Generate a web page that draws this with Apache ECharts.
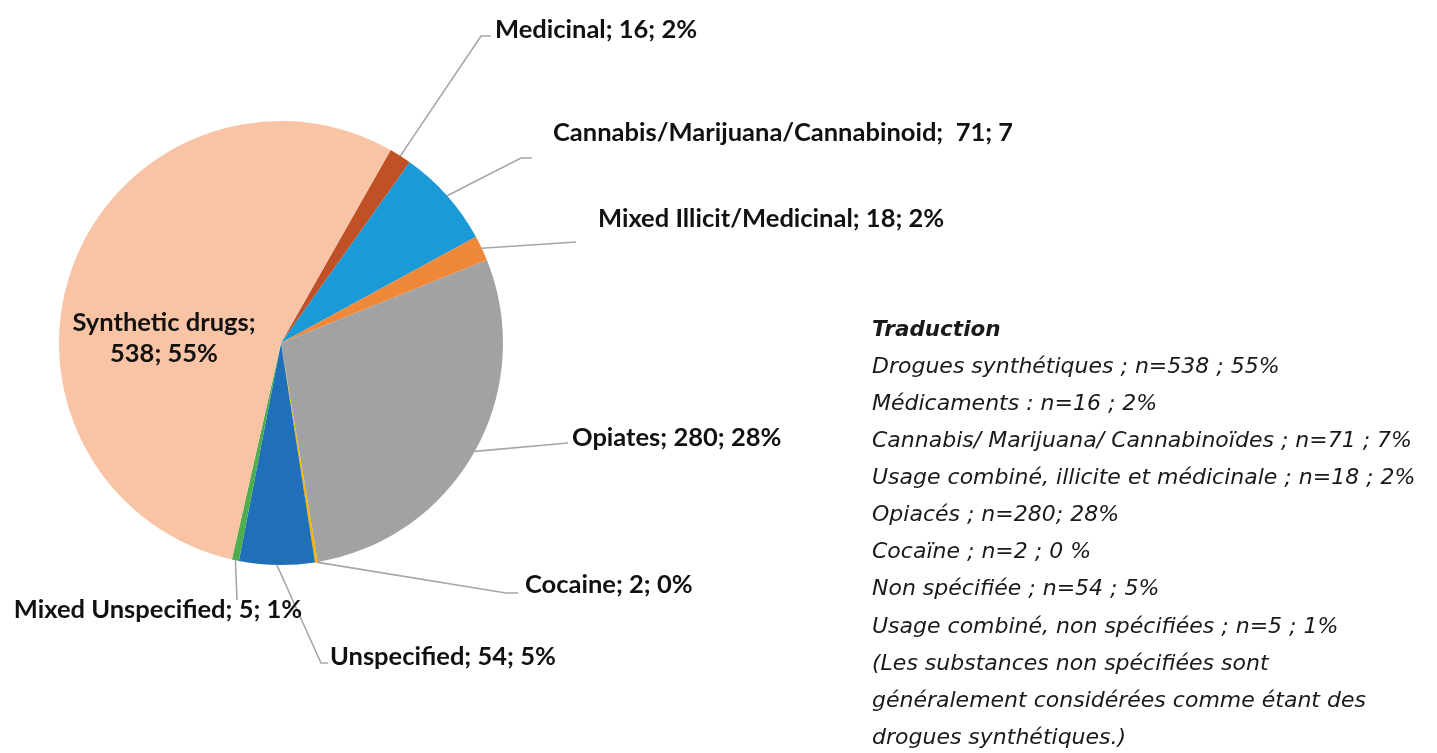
<!DOCTYPE html>
<html><head><meta charset="utf-8">
<script src="https://cdn.jsdelivr.net/npm/echarts@6/dist/echarts.min.js"></script>
<style>html,body{margin:0;padding:0;background:#fff}#c{width:1437px;height:753px}</style>
</head><body><div id="c"></div>
<script>
// ---- data ----
const categories = ['Medicinal', 'Cannabis/Marijuana/Cannabinoid', 'Mixed Illicit/Medicinal', 'Opiates', 'Cocaine', 'Unspecified', 'Mixed Unspecified', 'Synthetic drugs'];
const values = [16, 71, 18, 280, 2, 54, 5, 538];
const translationTitle = 'Traduction';
const translationLines = [
  'Drogues synthétiques ; n=538 ; 55%',
  'Médicaments : n=16 ; 2%',
  'Cannabis/ Marijuana/ Cannabinoïdes ; n=71 ; 7%',
  'Usage combiné, illicite et médicinale ; n=18 ; 2%',
  'Opiacés ; n=280; 28%',
  'Cocaïne ; n=2 ; 0 %',
  'Non spécifiée ; n=54 ; 5%',
  'Usage combiné, non spécifiées ; n=5 ; 1%',
  '(Les substances non spécifiées sont',
  'généralement considérées comme étant des',
  'drogues synthétiques.)'
];

// ---- styles / layout ----
const colors = ['#C05026', '#1A9BD7', '#F0883A', '#A0A2A3', '#F4B400', '#1F70B8', '#4EAD4C', '#F8C4A5'];
const labelPlacement = {
  'Medicinal': { x: 495, y: 30, align: 'left', path: [[481, 36], [491, 36]] },
  'Cannabis/Marijuana/Cannabinoid': { x: 553, y: 133, align: 'left', path: [[521, 158], [532, 158]] },
  'Mixed Illicit/Medicinal': { x: 598, y: 219, align: 'left', path: [[576, 242]] },
  'Opiates': { x: 572, y: 438, align: 'left', path: [[568, 443]] },
  'Cocaine': { x: 525, y: 585, align: 'left', path: [[506, 593], [518, 593]] },
  'Unspecified': { x: 330, y: 657, align: 'left', path: [[321, 663], [328, 663]] },
  'Mixed Unspecified': { x: 158, y: 610, align: 'center', path: [[237, 600]] },
  'Synthetic drugs': { x: 164, y: 338, align: 'center', path: null }
};

const labelFont = 'Lato, "Liberation Sans", sans-serif';
const textFont = '"DejaVu Sans", "Open Sans", sans-serif';

const chart = echarts.init(document.getElementById('c'), null, { renderer: 'canvas' });

const pieData = categories.map((name, i) => ({
  name: name,
  value: values[i],
  itemStyle: { color: colors[i] },
  labelLine: { show: name !== 'Synthetic drugs' }
}));

const graphicElems = [];
const lineGap = 37.1;
graphicElems.push({
  type: 'text', x: 872, y: 330, z: 50,
  style: { text: translationTitle, fontFamily: textFont, fontStyle: 'italic', fontWeight: 'bold', fontSize: 21.5, fill: '#1a1a1a', verticalAlign: 'middle', align: 'left' }
});
translationLines.forEach((t, i) => {
  graphicElems.push({
    type: 'text', x: 872, y: 330 + (i + 1) * lineGap, z: 50,
    style: { text: t, fontFamily: textFont, fontStyle: 'italic', fontWeight: 'normal', fontSize: 22, fill: '#1a1a1a', verticalAlign: 'middle', align: 'left' }
  });
});
// clip of the overflowing Cannabis label, as in the source
graphicElems.push({
  type: 'rect', z: 100, shape: { x: 1012, y: 112, width: 200, height: 44 }, style: { fill: '#ffffff' }
});

chart.setOption({
  backgroundColor: '#ffffff',
  animation: false,
  graphic: { elements: graphicElems },
  series: [{
    type: 'pie',
    center: [281, 343],
    radius: 222,
    startAngle: 60.4,
    clockwise: true,
    avoidLabelOverlap: false,
    percentPrecision: 0,
    itemStyle: { borderWidth: 0 },
    emphasis: { disabled: true },
    data: pieData,
    label: {
      show: true,
      position: 'outside',
      fontFamily: labelFont,
      fontWeight: 'bold',
      fontSize: 25.5,
      color: '#111',
      lineHeight: 31,
      formatter: function (p) {
        if (p.name === 'Synthetic drugs') return p.name + ';\n' + p.value + '; ' + p.percent + '%';
        if (p.name === 'Cannabis/Marijuana/Cannabinoid') return p.name + ';  ' + p.value + '; ' + p.percent + '%';
        return p.name + '; ' + p.value + '; ' + p.percent + '%';
      }
    },
    labelLine: {
      show: true,
      length: 20,
      length2: 10,
      lineStyle: { color: '#A6A6A6', width: 1.6 }
    },
    labelLayout: function (params) {
      const p = labelPlacement[categories[params.dataIndex]];
      const out = { x: p.x, y: p.y, align: p.align, verticalAlign: 'middle' };
      if (p.path && params.labelLinePoints) {
        out.labelLinePoints = [params.labelLinePoints[0]].concat(p.path);
      }
      return out;
    }
  }]
});
</script>
</body></html>
